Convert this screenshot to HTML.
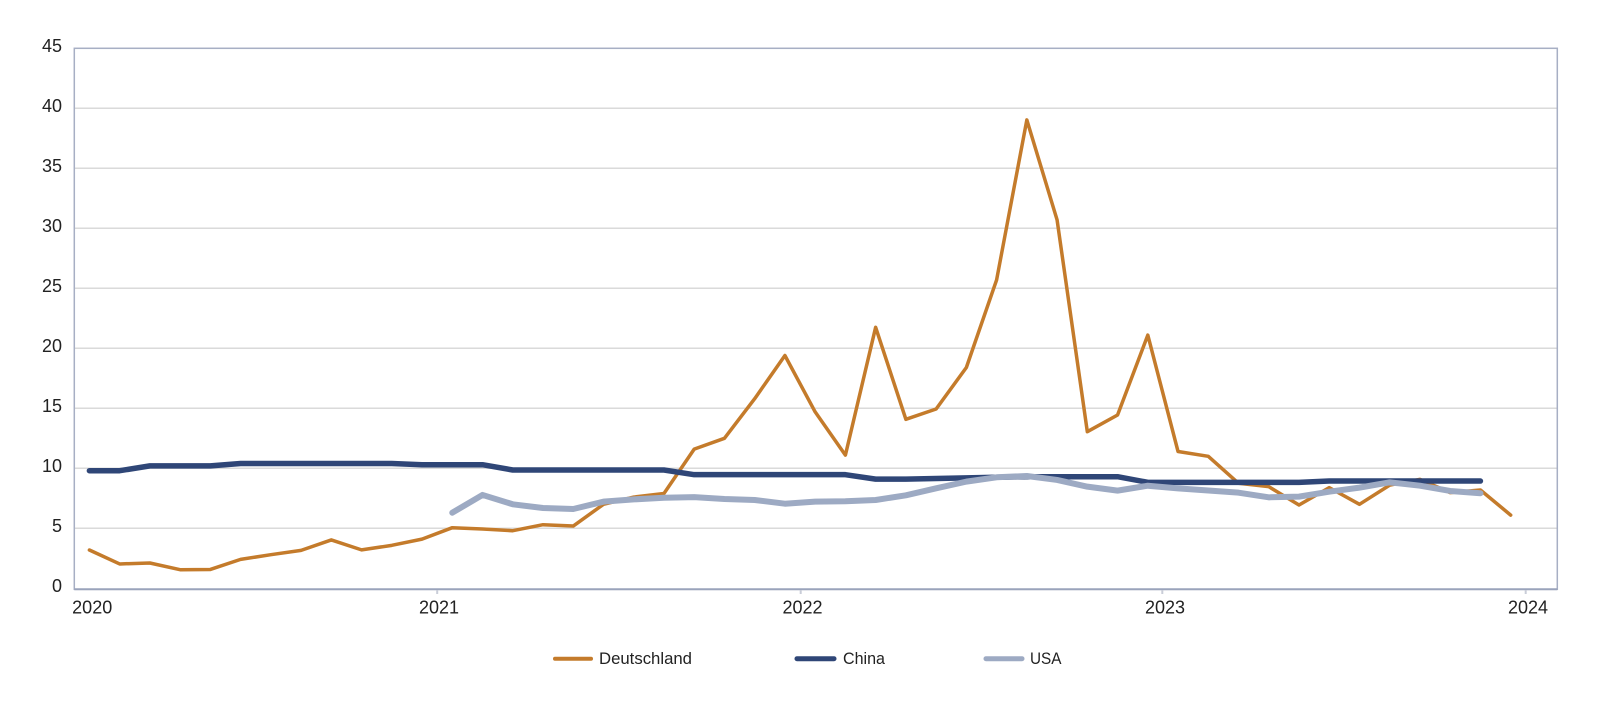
<!DOCTYPE html>
<html>
<head>
<meta charset="utf-8">
<style>
  html, body { margin: 0; padding: 0; background: #ffffff; }
  body { width: 1600px; height: 716px; overflow: hidden; }
  svg { display: block; }
  text { font-family: "Liberation Sans", "DejaVu Sans", sans-serif; fill: #222222; }
</style>
</head>
<body>
<svg width="1600" height="716" viewBox="0 0 1600 716" xmlns="http://www.w3.org/2000/svg">
  <rect x="0" y="0" width="1600" height="716" fill="#ffffff"/>

  <!-- gridlines -->
  <g stroke="#DADADA" stroke-width="1.5">
    <line x1="75" y1="528.3" x2="1557" y2="528.3"/>
    <line x1="75" y1="468.3" x2="1557" y2="468.3"/>
    <line x1="75" y1="408.3" x2="1557" y2="408.3"/>
    <line x1="75" y1="348.3" x2="1557" y2="348.3"/>
    <line x1="75" y1="288.3" x2="1557" y2="288.3"/>
    <line x1="75" y1="228.3" x2="1557" y2="228.3"/>
    <line x1="75" y1="168.3" x2="1557" y2="168.3"/>
    <line x1="75" y1="108.3" x2="1557" y2="108.3"/>
  </g>

  <!-- plot border -->
  <rect x="74.3" y="48.3" width="1483" height="541" fill="none" stroke="#A7AFC4" stroke-width="1.5"/>
  <line x1="74.3" y1="589.3" x2="1557.3" y2="589.3" stroke="#9AA3BB" stroke-width="2"/>

  <!-- ticks -->
  <g stroke="#C9CDD8" stroke-width="2">
    <line x1="437.2" y1="590" x2="437.2" y2="594"/>
    <line x1="800.7" y1="590" x2="800.7" y2="594"/>
    <line x1="1162.3" y1="590" x2="1162.3" y2="594"/>
    <line x1="1525.7" y1="590" x2="1525.7" y2="594"/>
  </g>

  <!-- y labels -->
  <g font-size="18" text-anchor="end">
    <text x="62" y="52">45</text>
    <text x="62" y="112">40</text>
    <text x="62" y="172">35</text>
    <text x="62" y="232">30</text>
    <text x="62" y="292">25</text>
    <text x="62" y="352">20</text>
    <text x="62" y="412">15</text>
    <text x="62" y="472">10</text>
    <text x="62" y="532">5</text>
    <text x="62" y="592">0</text>
  </g>

  <!-- x labels -->
  <g font-size="18" text-anchor="middle">
    <text x="92.2" y="613.5">2020</text>
    <text x="439" y="613.5">2021</text>
    <text x="802.5" y="613.5">2022</text>
    <text x="1165" y="613.5">2023</text>
    <text x="1528" y="613.5">2024</text>
  </g>

  <!-- series -->
  <g transform="translate(89.4,588.3) scale(30.24,-12)" fill="none" stroke-linejoin="round" stroke-linecap="round">
    <polyline vector-effect="non-scaling-stroke" stroke="#C47B2B" stroke-width="3.5"
      points="0,3.19 1,2.03 2,2.11 3,1.55 4,1.57 5,2.41 6,2.8 7,3.16 8,4.03 9,3.2 10,3.58 11,4.1 12,5.05 13,4.94 14,4.8 15,5.3 16,5.19 17,7.0 18,7.6 19,7.9 20,11.6 21,12.5 22,15.8 23,19.4 24,14.7 25,11.1 26,21.75 27,14.08 28,14.94 29,18.4 30,25.7 31,39.03 32,30.7 33,13.05 34,14.44 35,21.1 36,11.4 37,11.0 38,8.75 39,8.47 40,6.94 41,8.39 42,7.0 43,8.6 44,9.08 45,7.97 46,8.19 47,6.1"/>
    <polyline vector-effect="non-scaling-stroke" stroke="#2F4677" stroke-width="5.5"
      points="0,9.8 1,9.8 2,10.2 3,10.2 4,10.2 5,10.4 6,10.4 7,10.4 8,10.4 9,10.4 10,10.4 11,10.3 12,10.3 13,10.3 14,9.86 15,9.86 16,9.86 17,9.86 18,9.86 19,9.86 20,9.47 21,9.47 22,9.47 23,9.47 24,9.47 25,9.47 26,9.1 27,9.1 28,9.15 29,9.2 30,9.25 31,9.3 32,9.3 33,9.3 34,9.3 35,8.83 36,8.83 37,8.83 38,8.83 39,8.83 40,8.83 41,8.94 42,8.94 43,8.94 44,8.94 45,8.94 46,8.94"/>
    <polyline vector-effect="non-scaling-stroke" stroke="#9DAAC3" stroke-width="6"
      points="12,6.3 13,7.78 14,7.0 15,6.69 16,6.61 17,7.22 18,7.41 19,7.55 20,7.6 21,7.44 22,7.36 23,7.05 24,7.22 25,7.25 26,7.36 27,7.75 28,8.33 29,8.89 30,9.25 31,9.36 32,9.03 33,8.47 34,8.14 35,8.55 36,8.33 37,8.15 38,7.97 39,7.58 40,7.64 41,8.05 42,8.39 43,8.83 44,8.55 45,8.11 46,7.92"/>
  </g>

  <!-- legend -->
  <g stroke-linecap="round">
    <line x1="555" y1="658.7" x2="591" y2="658.7" stroke="#C47B2B" stroke-width="4"/>
    <line x1="797" y1="658.7" x2="834" y2="658.7" stroke="#2F4677" stroke-width="5"/>
    <line x1="986" y1="658.7" x2="1022" y2="658.7" stroke="#9DAAC3" stroke-width="5"/>
  </g>
  <g font-size="17">
    <text x="599" y="664" textLength="93" lengthAdjust="spacingAndGlyphs">Deutschland</text>
    <text x="843" y="664" textLength="42" lengthAdjust="spacingAndGlyphs">China</text>
    <text x="1030" y="664" textLength="31.5" lengthAdjust="spacingAndGlyphs">USA</text>
  </g>
</svg>
</body>
</html>
